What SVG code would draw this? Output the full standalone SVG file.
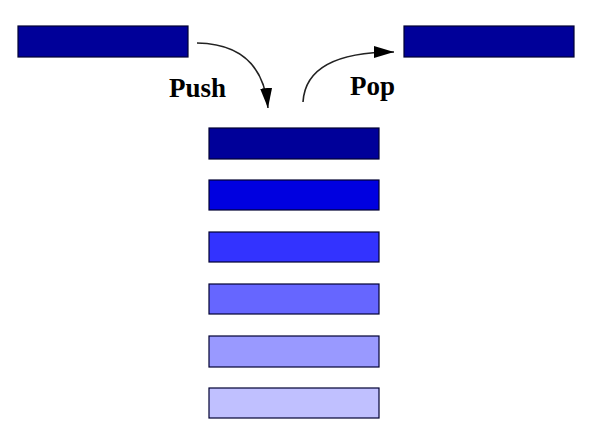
<svg xmlns="http://www.w3.org/2000/svg" width="599" height="448" viewBox="0 0 599 448">
<style>
.box{stroke:#000033;stroke-width:1.2}
.lbl{font-family:"Liberation Serif",serif;font-weight:bold;font-size:27px;fill:#000}
.arc{fill:none;stroke:#222;stroke-width:1.6}
</style>
<defs>
<marker id="ah" viewBox="0 0 20 12" refX="20" refY="6" markerWidth="20" markerHeight="12" markerUnits="userSpaceOnUse" orient="auto">
<path d="M0,0 L20,6 L0,12 Z" fill="#000"/>
</marker>
</defs>
<rect width="599" height="448" fill="#fff"/>
<g id="in-item"><rect class="box" x="18" y="26" width="170" height="31" fill="#000099"/></g>
<g id="out-item"><rect class="box" x="404" y="26" width="170" height="31" fill="#000099"/></g>
<g id="s1"><rect class="box" x="209" y="128" width="170" height="31" fill="#000099"/></g>
<g id="s2"><rect class="box" x="209" y="180" width="170" height="30" fill="#0000E0"/></g>
<g id="s3"><rect class="box" x="209" y="232" width="170" height="30" fill="#3333FF"/></g>
<g id="s4"><rect class="box" x="209" y="284" width="170" height="30" fill="#6666FF"/></g>
<g id="s5"><rect class="box" x="209" y="336" width="170" height="31" fill="#9999FF"/></g>
<g id="s6"><rect class="box" x="209" y="388" width="170" height="30" fill="#C0C0FF"/></g>
<g id="connectors">
<path class="arc" d="M197,43 Q262,44 268,108" marker-end="url(#ah)"/>
<path class="arc" d="M303,102 Q306,52 394,52" marker-end="url(#ah)"/>
</g>
<g id="labels">
<text class="lbl" x="169" y="97">Push</text>
<text class="lbl" x="350" y="95">Pop</text>
</g>
</svg>
